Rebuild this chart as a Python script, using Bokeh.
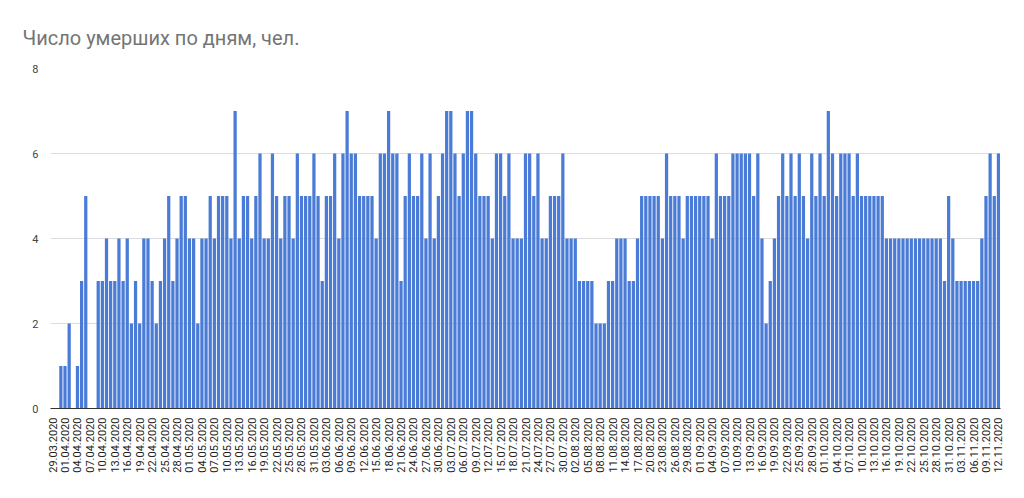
from datetime import date, timedelta
from bokeh.plotting import figure
from bokeh.models import Range1d, FixedTicker, ColumnDataSource
from bokeh.embed import file_html
from bokeh.resources import INLINE

title_text = "Число умерших по дням, чел."
start_date = date(2020, 3, 29)

deaths = [
    0, 0, 1, 1, 2, 0, 1, 3, 5, 0,
    0, 3, 3, 4, 3, 3, 4, 3, 4, 2,
    3, 2, 4, 4, 3, 2, 3, 4, 5, 3,
    4, 5, 5, 4, 4, 2, 4, 4, 5, 4,
    5, 5, 5, 4, 7, 4, 5, 5, 4, 5,
    6, 4, 4, 6, 5, 4, 5, 5, 4, 6,
    5, 5, 5, 6, 5, 3, 5, 5, 6, 4,
    6, 7, 6, 6, 5, 5, 5, 5, 4, 6,
    6, 7, 6, 6, 3, 5, 6, 5, 5, 6,
    4, 6, 4, 5, 6, 7, 7, 6, 5, 6,
    7, 7, 6, 5, 5, 5, 4, 6, 6, 5,
    6, 4, 4, 4, 6, 6, 5, 6, 4, 4,
    5, 5, 5, 6, 4, 4, 4, 3, 3, 3,
    3, 2, 2, 2, 3, 3, 4, 4, 4, 3,
    3, 4, 5, 5, 5, 5, 5, 4, 6, 5,
    5, 5, 4, 5, 5, 5, 5, 5, 5, 4,
    6, 5, 5, 5, 6, 6, 6, 6, 6, 5,
    6, 4, 2, 3, 4, 5, 6, 5, 6, 5,
    6, 5, 4, 6, 5, 6, 5, 7, 6, 5,
    6, 6, 6, 5, 6, 5, 5, 5, 5, 5,
    5, 4, 4, 4, 4, 4, 4, 4, 4, 4,
    4, 4, 4, 4, 4, 3, 5, 4, 3, 3,
    3, 3, 3, 3, 4, 5, 6, 5, 6,
]
y_ticks = [0, 2, 4, 6, 8]
label_step = 3

n = len(deaths)
dates = [(start_date + timedelta(days=i)).strftime("%d.%m.%Y") for i in range(n)]
idx = list(range(n))
src = ColumnDataSource(dict(x=idx, y=deaths, d=dates))

p = figure(width=1024, height=498, output_backend="svg", toolbar_location=None,
           x_range=Range1d(-0.5, n - 0.5), y_range=Range1d(0, 8),
           min_border_left=50, min_border_right=24, min_border_top=68,
           min_border_bottom=90, outline_line_color=None)

p.vbar(x="x", top="y", width=0.78, source=src, color="#4a7bd6", line_color=None)

p.title.text = title_text
p.title.text_font = "Roboto"
p.title.text_font_size = "20px"
p.title.text_font_style = "normal"
p.title.text_color = "#757575"
p.title.align = "left"
p.title.offset = -28
p.title.standoff = 37

p.xgrid.grid_line_color = None
p.ygrid.grid_line_color = "#dcdcdc"
p.ygrid.ticker = FixedTicker(ticks=y_ticks)

xa = p.xaxis[0]
xa.ticker = FixedTicker(ticks=[i for i in idx if i % label_step == 0])
xa.major_label_overrides = {i: dates[i] for i in idx if i % label_step == 0}
xa.major_label_orientation = 3.14159265 / 2
xa.major_label_text_font = "Roboto"
xa.major_label_text_font_size = "11px"
xa.major_label_text_color = "#222222"
xa.major_tick_line_color = None
xa.minor_tick_line_color = None
xa.axis_line_color = "#333333"
xa.major_label_standoff = 3

ya = p.yaxis[0]
ya.ticker = FixedTicker(ticks=y_ticks)
ya.major_label_text_font = "Roboto"
ya.major_label_text_font_size = "11px"
ya.major_label_text_color = "#444444"
ya.axis_line_color = None
ya.major_tick_line_color = None
ya.minor_tick_line_color = None
ya.major_label_standoff = 6

open("out.html", "w").write(file_html(p, INLINE))
